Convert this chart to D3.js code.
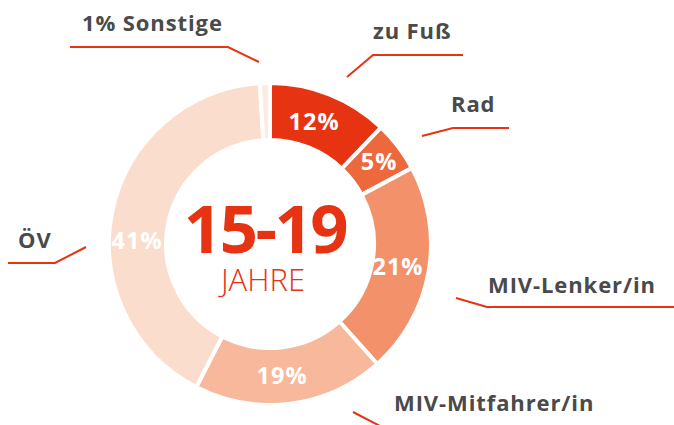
<!DOCTYPE html>
<html>
<head>
<meta charset="utf-8">
<script src="https://cdn.jsdelivr.net/npm/d3@7"></script>
<style>
  html, body { margin: 0; padding: 0; background: #fff; }
  svg { display: block; }
</style>
</head>
<body>
<svg id="chart" width="674" height="425"></svg>
<script>
const categories = ["zu Fuß", "Rad", "MIV-Lenker/in", "MIV-Mitfahrer/in", "ÖV", "Sonstige"];
const values = [12, 5, 21, 19, 41, 1];
const valueLabels = ["12%", "5%", "21%", "19%", "41%", ""];
const outerLabels = ["zu Fuß", "Rad", "MIV-Lenker/in", "MIV-Mitfahrer/in", "ÖV", "1% Sonstige"];
const colors = ["#E63312", "#EC693D", "#F2916A", "#F7B89B", "#FBDDCE", "#FDEBE3"];
const centerTitle = "15-19";
const centerSub = "JAHRE";

const svg = d3.select("#chart");
const cx = 270, cy = 244, rOuter = 161, rInner = 104;

const pie = d3.pie().sort(null).value(d => d);
const arcs = pie(values);
const arc = d3.arc().innerRadius(rInner).outerRadius(rOuter);

const g = svg.append("g").attr("transform", `translate(${cx},${cy})`);
g.selectAll("path.slice").data(arcs).join("path")
  .attr("class", "slice")
  .attr("d", arc)
  .attr("fill", (d, i) => colors[i])
  .attr("stroke", "#fff")
  .attr("stroke-width", 4)
  .attr("stroke-linejoin", "miter");

// percent labels inside the ring
const deg = Math.PI / 180;
const labelPlace = {
  "zu Fuß": { da: -2 * deg, r: 130 },
  "Rad": { da: 0, r: 137 },
  "MIV-Lenker/in": { da: 0, r: 130 },
  "MIV-Mitfahrer/in": { da: 2 * deg, r: 132 },
  "ÖV": { da: -10.5 * deg, r: 133 },
  "Sonstige": { da: 0, r: 132 }
};
g.selectAll("text.pct").data(arcs).join("text")
  .attr("class", "pct")
  .each(function (d, i) {
    const p = labelPlace[categories[i]];
    const a = (d.startAngle + d.endAngle) / 2 + p.da;
    d3.select(this)
      .attr("x", p.r * Math.sin(a))
      .attr("y", -p.r * Math.cos(a) + 8.5);
  })
  .attr("text-anchor", "middle")
  .attr("font-family", "'Open Sans', sans-serif")
  .attr("font-weight", 700)
  .attr("font-size", 23.5)
  .attr("letter-spacing", 1)
  .attr("fill", "#fff")
  .text((d, i) => valueLabels[i]);

// center text
svg.append("text")
  .attr("x", 265).attr("y", 253)
  .attr("text-anchor", "middle")
  .attr("font-family", "'Open Sans', sans-serif")
  .attr("font-weight", 700)
  .attr("font-size", 67)
  .attr("letter-spacing", -2.5)
  .attr("fill", "#E63312")
  .text(centerTitle);
svg.append("text")
  .attr("x", 263).attr("y", 291)
  .attr("text-anchor", "middle")
  .attr("font-family", "'Open Sans', sans-serif")
  .attr("font-weight", 300)
  .attr("font-size", 31)
  .attr("fill", "#E63312")
  .text(centerSub);

// leader lines and outer labels
const leaderPaths = {
  "zu Fuß":           { pts: [[347, 77], [373, 55], [463, 55]], text: [373, 39] },
  "Rad":              { pts: [[422, 136], [453, 128], [509, 128]], text: [451, 112] },
  "MIV-Lenker/in":    { pts: [[456, 298], [487, 307], [674, 307]], text: [488, 293] },
  "MIV-Mitfahrer/in": { pts: [[353, 412], [380, 426]], text: [394, 411] },
  "ÖV":               { pts: [[86, 247], [55, 263], [8, 263]], text: [18, 248] },
  "Sonstige":         { pts: [[259, 62], [228, 47], [70, 47]], text: [82, 31] }
};
const line = d3.line();
categories.forEach((c, i) => {
  const lp = leaderPaths[c];
  svg.append("path")
    .attr("d", line(lp.pts))
    .attr("fill", "none")
    .attr("stroke", "#E63312")
    .attr("stroke-width", 2);
  svg.append("text")
    .attr("x", lp.text[0]).attr("y", lp.text[1])
    .attr("font-family", "'Open Sans', sans-serif")
    .attr("font-weight", 700)
    .attr("font-size", 22)
    .attr("letter-spacing", 0.9)
    .attr("fill", "#4A4A4A")
    .text(outerLabels[i]);
});
</script>
</body>
</html>
